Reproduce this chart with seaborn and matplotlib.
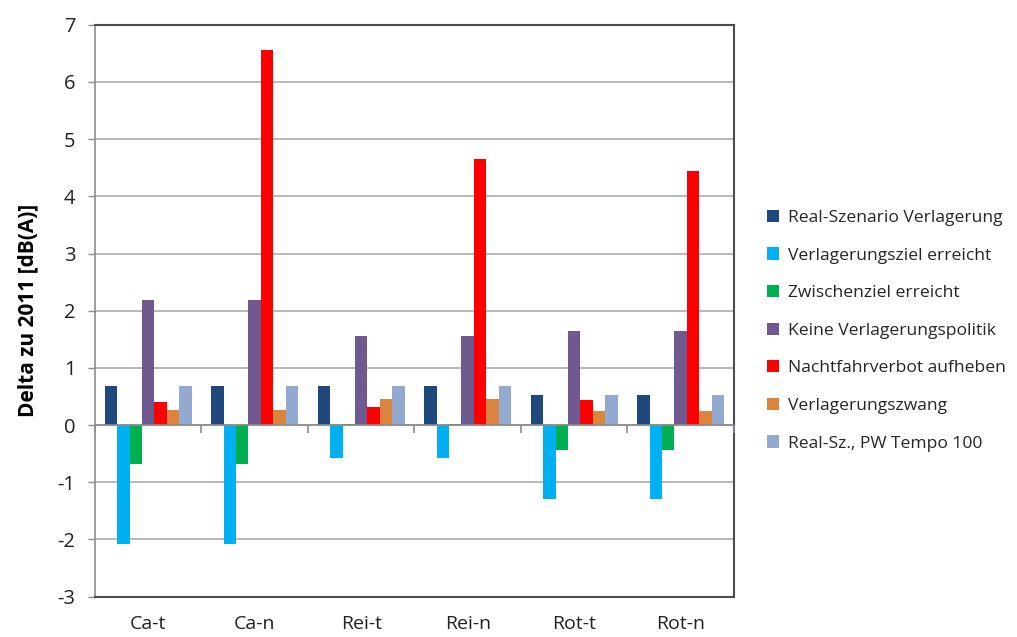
import numpy as np
import pandas as pd
import seaborn as sns
import matplotlib.pyplot as plt

# Measuring points (t = day, n = night)
categories = ["Ca-t", "Ca-n", "Rei-t", "Rei-n", "Rot-t", "Rot-n"]

# Scenarios
scenarios = [
    "Real-Szenario Verlagerung",
    "Verlagerungsziel erreicht",
    "Zwischenziel erreicht",
    "Keine Verlagerungspolitik",
    "Nachtfahrverbot aufheben",
    "Verlagerungszwang",
    "Real-Sz., PW Tempo 100",
]

# Change of noise level relative to 2011 in dB(A), one list per scenario
real_szenario = [0.69, 0.69, 0.69, 0.69, 0.53, 0.53]
ziel_erreicht = [-2.08, -2.08, -0.57, -0.57, -1.30, -1.30]
zwischenziel = [-0.68, -0.68, 0.02, 0.02, -0.43, -0.43]
keine_politik = [2.19, 2.19, 1.56, 1.56, 1.65, 1.65]
nachtfahrverbot = [0.40, 6.56, 0.32, 4.65, 0.44, 4.45]
zwang = [0.26, 0.26, 0.46, 0.46, 0.24, 0.24]
tempo_100 = [0.69, 0.69, 0.69, 0.69, 0.53, 0.53]

series = [real_szenario, ziel_erreicht, zwischenziel, keine_politik,
          nachtfahrverbot, zwang, tempo_100]

colors = ["#1F497D", "#00B0F0", "#00B050", "#705890",
          "#FF0000", "#DB843D", "#93A9D0"]

df = pd.DataFrame(
    [(c, s, v) for s, vals in zip(scenarios, series) for c, v in zip(categories, vals)],
    columns=["Messpunkt", "Szenario", "Delta"],
)

sns.set_theme(style="white")
plt.rcParams["font.family"] = ["Open Sans", "DejaVu Sans"]
plt.rcParams["axes.unicode_minus"] = False

fig = plt.figure(figsize=(10.17, 6.37), dpi=100)
ax = fig.add_axes([0.0934, 0.0633, 0.6283, 0.8979])

sns.barplot(data=df, x="Messpunkt", y="Delta", hue="Szenario",
            order=categories, hue_order=scenarios, palette=colors,
            width=0.82, linewidth=0, saturation=1, errorbar=None, ax=ax,
            zorder=3)

ax.set_ylim(-3, 7)
ax.set_yticks(np.arange(-3, 8, 1))
ax.set_xlim(-0.5, len(categories) - 0.5)
ax.yaxis.grid(True, color="#B3B3B3", linewidth=1.3, zorder=0)
ax.set_axisbelow(True)

# Category axis sits at zero with tick marks between groups
ax.axhline(0, color="#8C8C8C", linewidth=1.2, zorder=4)
ax.plot(np.arange(len(categories) + 1) - 0.5, np.zeros(len(categories) + 1),
        ls="", marker=3, ms=6, mew=1.2, color="#8C8C8C", zorder=4,
        clip_on=False)

ax.tick_params(axis="x", length=0, pad=13, labelsize=14, colors="#222222")
ax.tick_params(axis="y", length=5, width=1, direction="out", left=True,
               labelsize=14.5, pad=9)
ax.tick_params(axis="y", colors="#8C8C8C", labelcolor="#222222")

ax.set_xlabel("")
ax.set_ylabel("Delta zu 2011 [dB(A)]", fontsize=15, fontweight="bold",
              color="black", labelpad=14)

for side in ["top", "right", "bottom"]:
    ax.spines[side].set_color("#4D4D4D")
    ax.spines[side].set_linewidth(1.5)
ax.spines["left"].set_color("#8C8C8C")
ax.spines["left"].set_linewidth(1.2)

handles, labels = ax.get_legend_handles_labels()
ax.legend(handles, labels, loc="center left", bbox_to_anchor=(1.04, 0.465),
          frameon=False, fontsize=12.6, handlelength=0.7, handleheight=0.7,
          handletextpad=0.5, labelspacing=1.22, borderaxespad=0)

fig.savefig("out.png", dpi=100)
